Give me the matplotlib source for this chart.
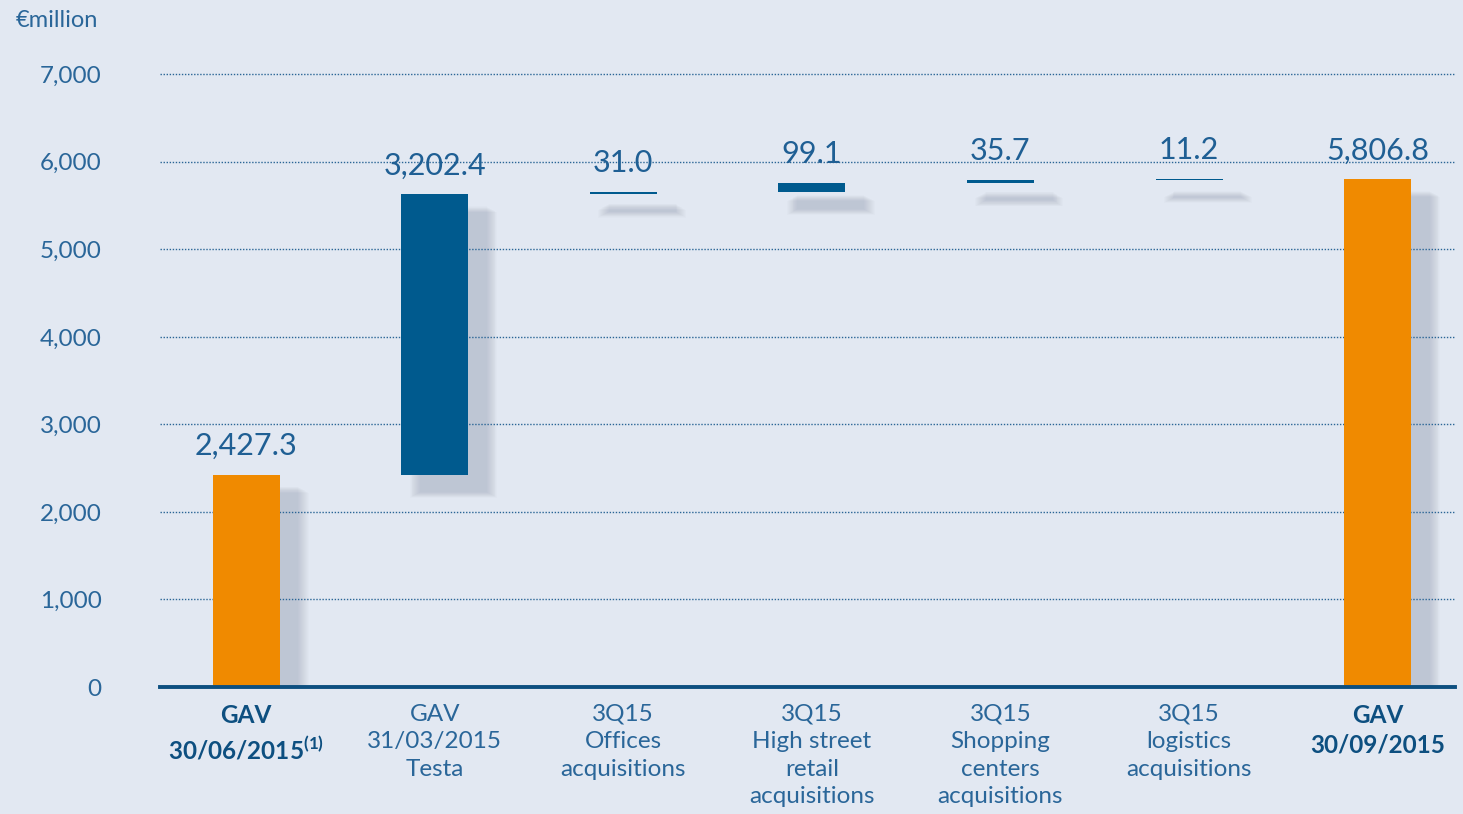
import numpy as np
import matplotlib.pyplot as plt

plt.rcParams['font.family'] = ['Lato', 'DejaVu Sans']
plt.rcParams['mathtext.fontset'] = 'custom'
plt.rcParams['mathtext.rm'] = 'Lato'
plt.rcParams['mathtext.bf'] = 'Lato:bold'

categories = ['GAV\n30/06/2015$^{\\mathbf{(1)}}$', 'GAV\n31/03/2015\nTesta',
              '3Q15\nOffices\nacquisitions', '3Q15\nHigh street\nretail\nacquisitions',
              '3Q15\nShopping\ncenters\nacquisitions', '3Q15\nlogistics\nacquisitions',
              'GAV\n30/09/2015']
values = [2427.3, 3202.4, 31.0, 99.1, 35.7, 11.2, 5806.8]
labels = ['2,427.3', '3,202.4', '31.0', '99.1', '35.7', '11.2', '5,806.8']
is_total = [True, False, False, False, False, False, True]
yticks = [0, 1000, 2000, 3000, 4000, 5000, 6000, 7000]

orange = '#f08a00'
blue = '#005a8e'
txt = '#2a6699'
bg = '#e2e8f2'

fig = plt.figure(figsize=(14.63, 8.14), dpi=100, facecolor=bg)
ax = fig.add_axes([0.1094, 0.156, 0.8851, 0.785])
ax.set_facecolor('none')

x = np.arange(len(values))
bottoms = []
run = 0
for v, t in zip(values, is_total):
    if t:
        bottoms.append(0)
        run = v
    else:
        bottoms.append(run)
        run += v

w = 0.355
# soft blurred shadows
for i in range(12):
    grow = i * 0.01
    ax.bar(x + 0.1, np.array(values) + 60, width=w + grow,
           bottom=np.array(bottoms) - 200 - grow * 600,
           color='#5a667a', alpha=0.02, zorder=1, linewidth=0)

cols = [orange if t else blue for t in is_total]
ax.bar(x, values, width=w, bottom=bottoms, color=cols, zorder=3, linewidth=0)

for xi, b, v, lab in zip(x, bottoms, values, labels):
    ax.annotate(lab, (xi, b + v), xytext=(0, 14), textcoords='offset points',
                ha='center', va='baseline', fontsize=22, color='#1f5f94')

for yv in yticks[1:]:
    ax.axhline(yv, color='#2a6596', lw=1.0, ls=(0, (1, 1.2)), zorder=2)
ax.axhline(0, color='#0d4f80', lw=2.8, zorder=4, clip_on=False)

ax.set_xlim(-0.456, 6.41)
ax.set_ylim(0, 7300)
ax.set_yticks(yticks)
ax.set_yticklabels([f'{v:,}' for v in yticks], fontsize=17.5, color=txt)
ax.tick_params(axis='y', length=0, pad=42)
ax.set_xticks(x)
ax.set_xticklabels(categories, fontsize=17.5, color=txt, linespacing=1.38, va='top')
ax.tick_params(axis='x', length=0, pad=12)
for lbl, t in zip(ax.get_xticklabels(), is_total):
    if t:
        lbl.set_fontweight('bold')
        lbl.set_color('#0d4f80')
for s in ax.spines.values():
    s.set_visible(False)

fig.text(0.011, 0.975, '€million', fontsize=17, color=txt, va='center', ha='left')

fig.savefig('out.png', dpi=100, facecolor=bg)
